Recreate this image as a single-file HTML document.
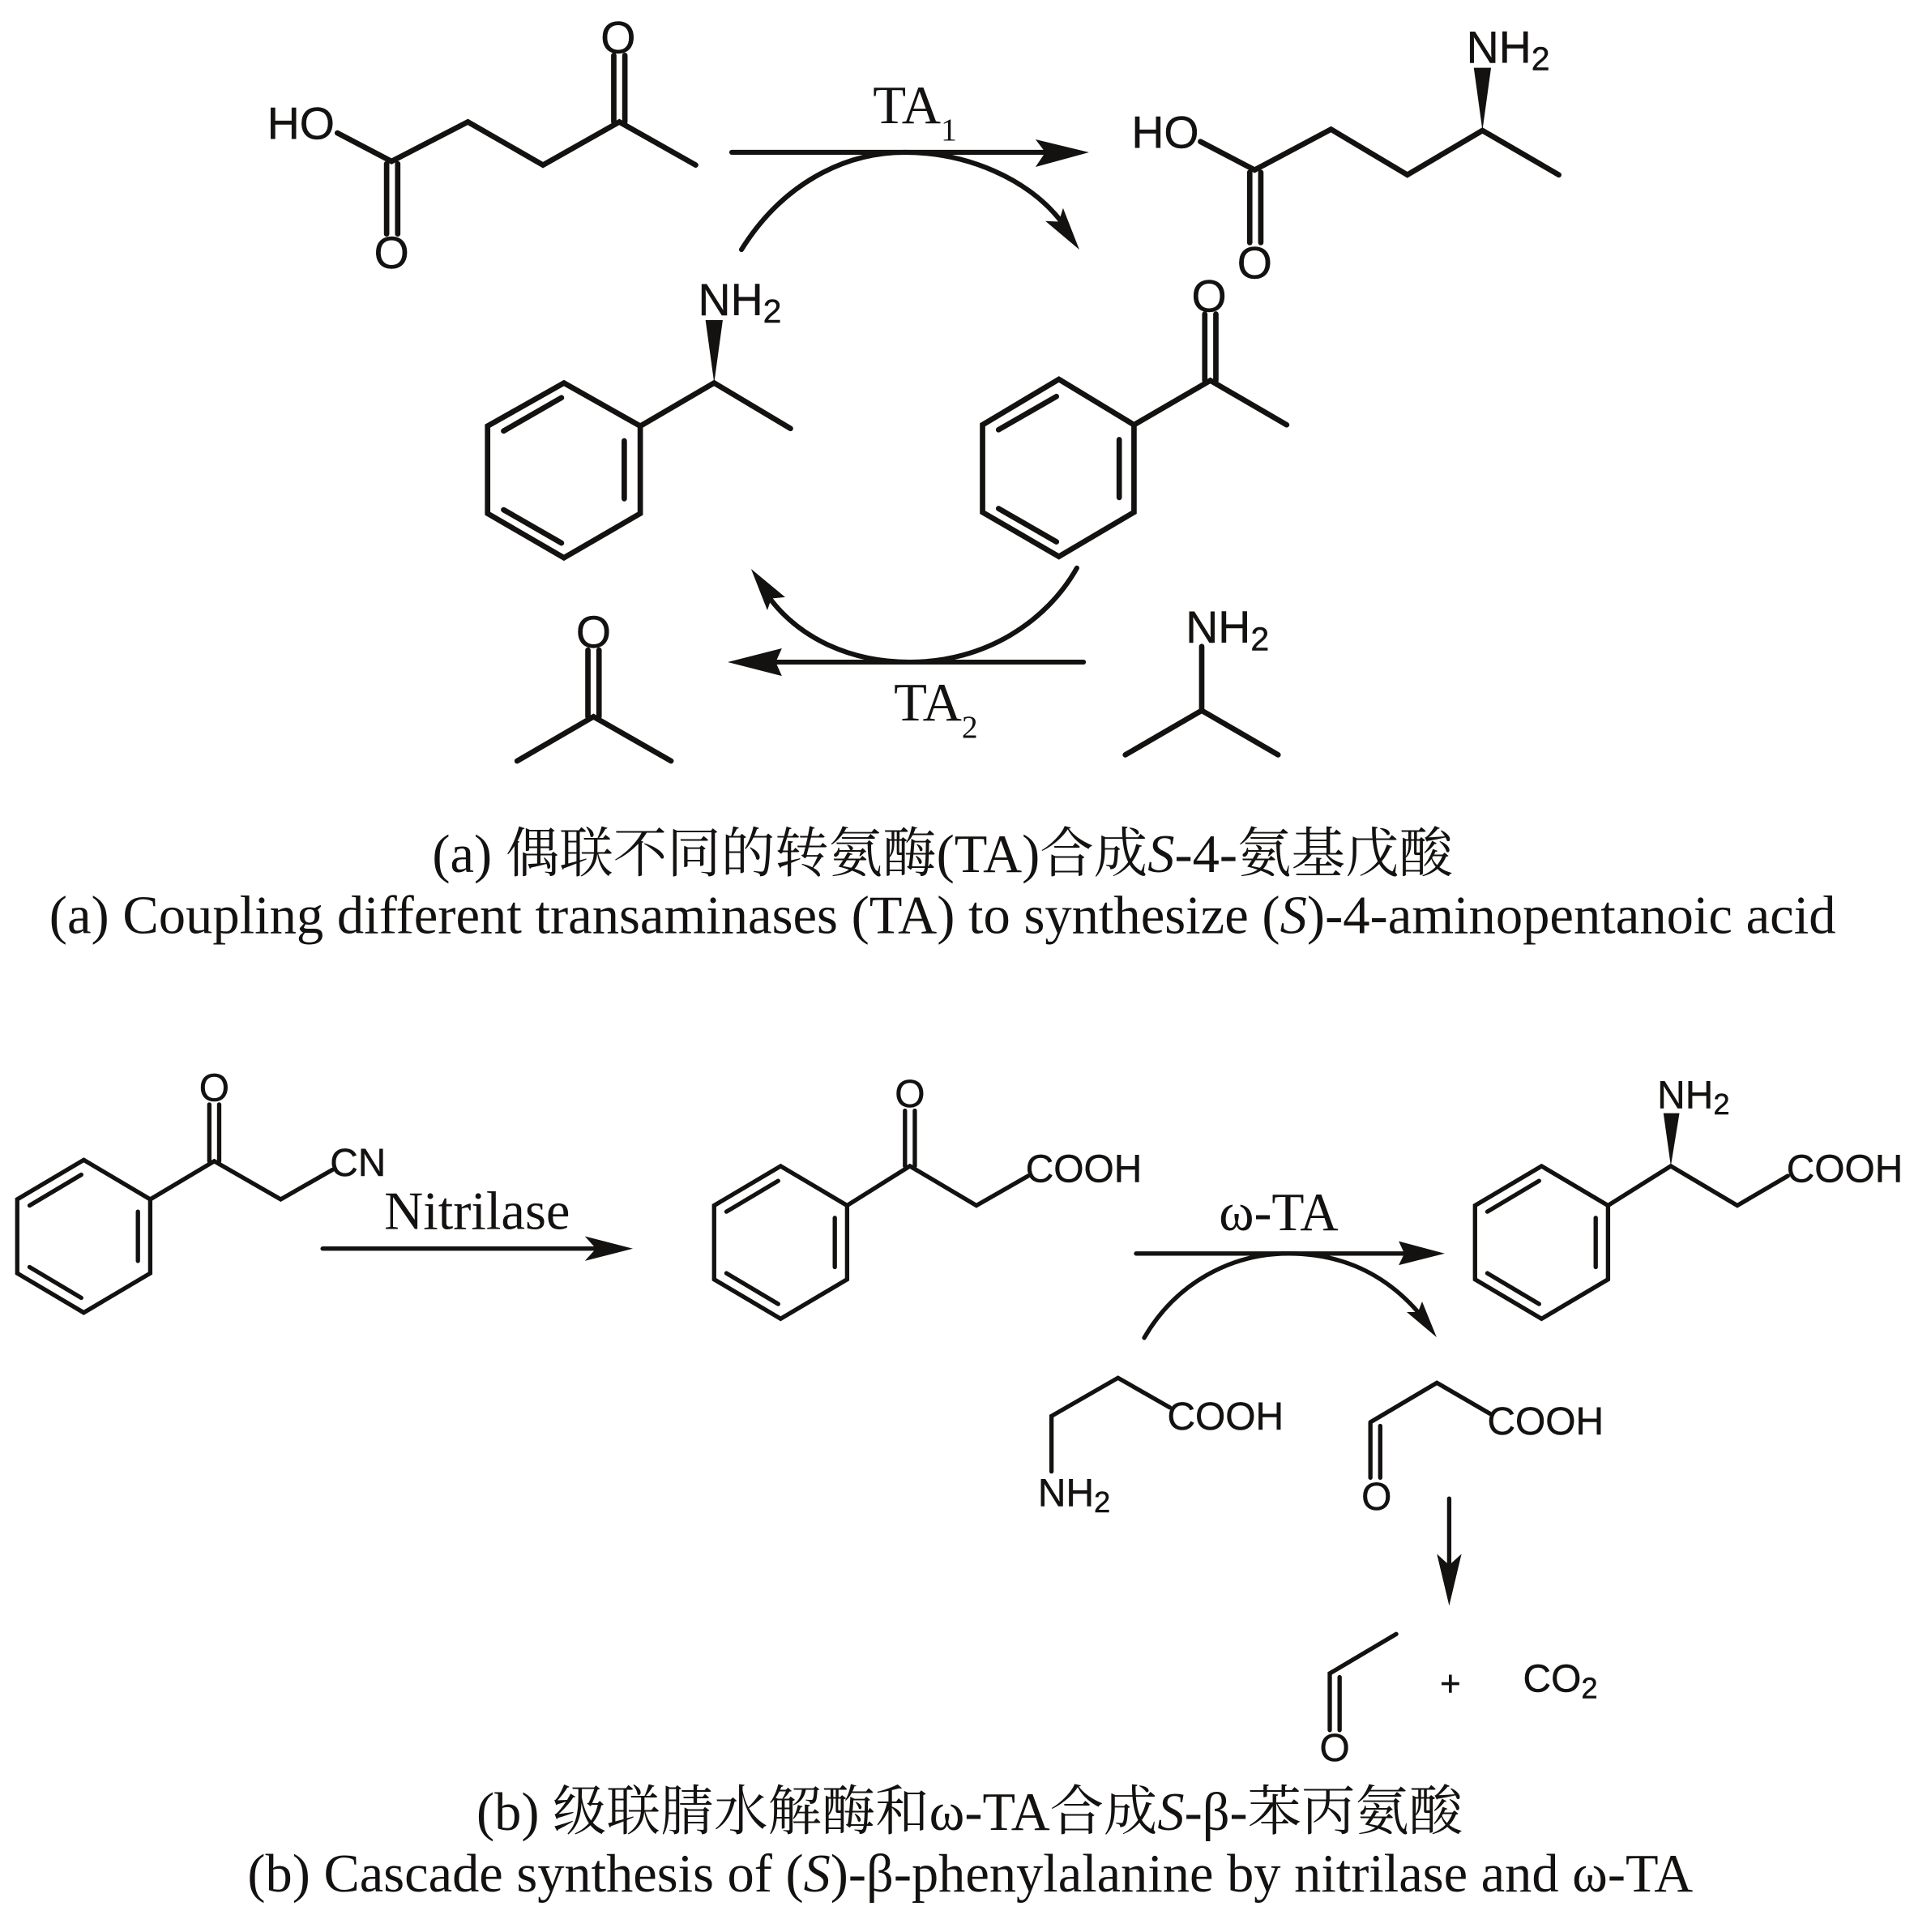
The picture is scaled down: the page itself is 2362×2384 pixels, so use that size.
<!DOCTYPE html>
<html><head><meta charset="utf-8"><style>
html,body{margin:0;padding:0;background:#fff}
svg{display:block}
.b{fill:none;stroke:#141210;stroke-width:4.4;stroke-linecap:round;stroke-linejoin:miter}
.w{stroke-width:4}
.t{stroke-width:3.5}
.a{fill:#141210;stroke:none}
.s{font-family:"Liberation Sans",sans-serif;fill:#141210;stroke:#141210;stroke-width:.3}
.r{font-family:"Liberation Serif","Noto Serif CJK SC",serif;fill:#141210}
.c{font-size:44px}
</style></head><body>
<svg xmlns="http://www.w3.org/2000/svg" width="2362" height="2384" viewBox="0 0 1554.5 1569">
<rect width="1554.5" height="1569" fill="#fff"/>
<!-- levulinic acid -->
<path class="b" d="M274,108L318,131L380,99L441,134L503,99L565,134M314,133V190M323,133V190M498.500,99V45M507.500,99V45"/>
<text class="s" x="217" y="113" font-size="36.500">HO</text>
<text class="s" x="318" y="218" font-size="36.500" text-anchor="middle">O</text>
<text class="s" x="502" y="43" font-size="36.500" text-anchor="middle">O</text>
<!-- product -->
<path class="b" d="M975,115L1019,138L1081,105L1143,142L1204,106L1266,142M1015,140V197M1024,140V197"/>
<polygon class="a" points="1204,106 1197,55 1211,55"/>
<text class="s" x="919" y="120" font-size="36.500">HO</text>
<text class="s" x="1019" y="226" font-size="36.500" text-anchor="middle">O</text>
<text class="s" x="1191" y="51" font-size="36.500">NH<tspan font-size="27" dy="6">2</tspan></text>
<!-- top arrows -->
<path class="b w" stroke-linecap="butt" d="M594.300,123.700H855"/>
<polygon class="a" points="884.500,123.700 841,113.200 849,123.700 841,135.600"/>
<path class="b w" d="M602.200,202.700C635,150 685,123.700 735,123.700C785,123.700 835,145 862,180"/>
<polygon class="a" points="876.600,202.700 863.400,169 860,180 849,179.500"/>
<text class="r" x="709" y="100" font-size="44">TA<tspan font-size="26" dy="14">1</tspan></text>
<!-- phenylethylamine -->
<path class="b" d="M458,311L520,346V417L458,453L396,417V346ZM520,346L580,311L642,348M507,358V405M409,350L456,323M409,414L456,441"/>
<polygon class="a" points="580,311 573,260 587,260"/>
<text class="s" x="567" y="256" font-size="36.500">NH<tspan font-size="27" dy="6">2</tspan></text>
<!-- acetophenone -->
<path class="b" d="M860,308L921,345V416L860,452L798,416V345ZM921,345L983,309L1045,345M909,357V404M811,349L858,322M811,413L858,440M978.500,309V255M987.500,309V255"/>
<text class="s" x="982" y="253" font-size="36.500" text-anchor="middle">O</text>
<!-- bottom arrows -->
<path class="b w" d="M874.600,461.300C850,505 800,537.700 739,537.700C690,537.700 650,518 626,487"/>
<polygon class="a" points="610,462 623.200,495.600 626.500,486 637.700,485"/>
<path class="b w" stroke-linecap="butt" d="M880,537.700H625"/>
<polygon class="a" points="591,537.700 635,526.500 630,537.700 635,549"/>
<text class="r" x="726" y="585" font-size="44">TA<tspan font-size="26" dy="14">2</tspan></text>
<!-- acetone -->
<path class="b" d="M420,618L482,582L545,618M477.500,582V528M486.500,582V528"/>
<text class="s" x="482" y="526" font-size="36.500" text-anchor="middle">O</text>
<!-- isopropylamine -->
<path class="b" d="M914,613L976,577L1038,613M976,577V525"/>
<text class="s" x="963" y="522" font-size="36.500">NH<tspan font-size="27" dy="6">2</tspan></text>
<!-- captions a -->
<text class="r c" x="351" y="708" textLength="829" lengthAdjust="spacingAndGlyphs">(a) 偶联不同的转氨酶(TA)合成<tspan font-style="italic">S</tspan>-4-氨基戊酸</text>
<text class="r c" x="40" y="758" textLength="1451" lengthAdjust="spacingAndGlyphs">(a) Coupling different transaminases (TA) to synthesize (<tspan font-style="italic">S</tspan>)-4-aminopentanoic acid</text>
<!-- part b ring 1 -->
<path class="b t" d="M68,942L122,974V1034L68,1066L14,1034V974ZM122,974L174,943L228,974L270,950M112,984V1024M24,979L66,954M24,1029L66,1054M170,943V897M178,943V897"/>
<text class="s" x="174" y="894" font-size="31.500" text-anchor="middle">O</text>
<text class="s" x="268" y="955" font-size="31.500">CN</text>
<text class="r" x="312" y="998" font-size="44" textLength="151" lengthAdjust="spacingAndGlyphs">Nitrilase</text>
<path class="b t" stroke-linecap="butt" d="M262,1014H490"/>
<polygon class="a" points="514,1014 475,1004 484,1014 475,1024"/>
<!-- ring 2 -->
<path class="b t" d="M634,947L688,979V1039L634,1071L580,1039V979ZM688,979L739,947L793,979L835,955M678,989V1029M590,984L632,959M590,1034L632,1059M735,947V902M743,947V902"/>
<text class="s" x="739" y="899" font-size="31.500" text-anchor="middle">O</text>
<text class="s" x="833" y="960" font-size="31.500">COOH</text>
<!-- omega arrow -->
<text class="r" x="990" y="999" font-size="44" textLength="97" lengthAdjust="spacingAndGlyphs">ω-TA</text>
<path class="b t" stroke-linecap="butt" d="M922.700,1018H1145"/>
<polygon class="a" points="1173.400,1018 1136,1008 1140.600,1018 1136,1027.400"/>
<path class="b t" d="M929.300,1086.500C955,1042 1000,1018 1046.400,1018C1090,1018 1125,1035 1151.700,1065.500"/>
<polygon class="a" points="1166.800,1086 1155,1057 1151.700,1065.500 1142.500,1065.500"/>
<!-- ring 3 -->
<path class="b t" d="M1252,947L1306,979V1039L1252,1071L1198,1039V979ZM1306,979L1357,947L1411,979L1452,955M1296,989V1029M1208,984L1250,959M1208,1034L1250,1059"/>
<polygon class="a" points="1357,947 1351,904 1364,904"/>
<text class="s" x="1346" y="900" font-size="31.500">NH<tspan font-size="24" dy="5">2</tspan></text>
<text class="s" x="1451" y="960" font-size="31.500">COOH</text>
<!-- beta-alanine -->
<path class="b t" d="M854,1195V1150L908,1119L950,1143"/>
<text class="s" x="948" y="1161" font-size="31.500">COOH</text>
<text class="s" x="843" y="1223" font-size="31.500">NH<tspan font-size="24" dy="5">2</tspan></text>
<!-- semialdehyde -->
<path class="b t" d="M1113,1155L1167,1123L1210,1148M1113,1155V1200M1121,1158V1200"/>
<text class="s" x="1208" y="1165" font-size="31.500">COOH</text>
<text class="s" x="1118" y="1226" font-size="31.500" text-anchor="middle">O</text>
<!-- down arrow -->
<path class="b t" stroke-linecap="butt" d="M1177,1217V1285"/>
<polygon class="a" points="1177,1304 1167,1262 1177,1271 1187,1262"/>
<!-- acetaldehyde + CO2 -->
<path class="b t" d="M1134,1327L1080,1359V1405M1088,1362V1405"/>
<text class="s" x="1084" y="1430" font-size="31.500" text-anchor="middle">O</text>
<text class="s" x="1178" y="1377" font-size="29" text-anchor="middle">+</text>
<text class="s" x="1237" y="1374" font-size="31.500">CO<tspan font-size="24" dy="5">2</tspan></text>
<!-- captions b -->
<text class="r c" x="387" y="1486" textLength="801" lengthAdjust="spacingAndGlyphs">(b) 级联腈水解酶和ω-TA合成<tspan font-style="italic">S</tspan>-β-苯丙氨酸</text>
<text class="r c" x="201" y="1536" textLength="1174" lengthAdjust="spacingAndGlyphs">(b) Cascade synthesis of (<tspan font-style="italic">S</tspan>)-β-phenylalanine by nitrilase and ω-TA</text>
</svg>
</body></html>
